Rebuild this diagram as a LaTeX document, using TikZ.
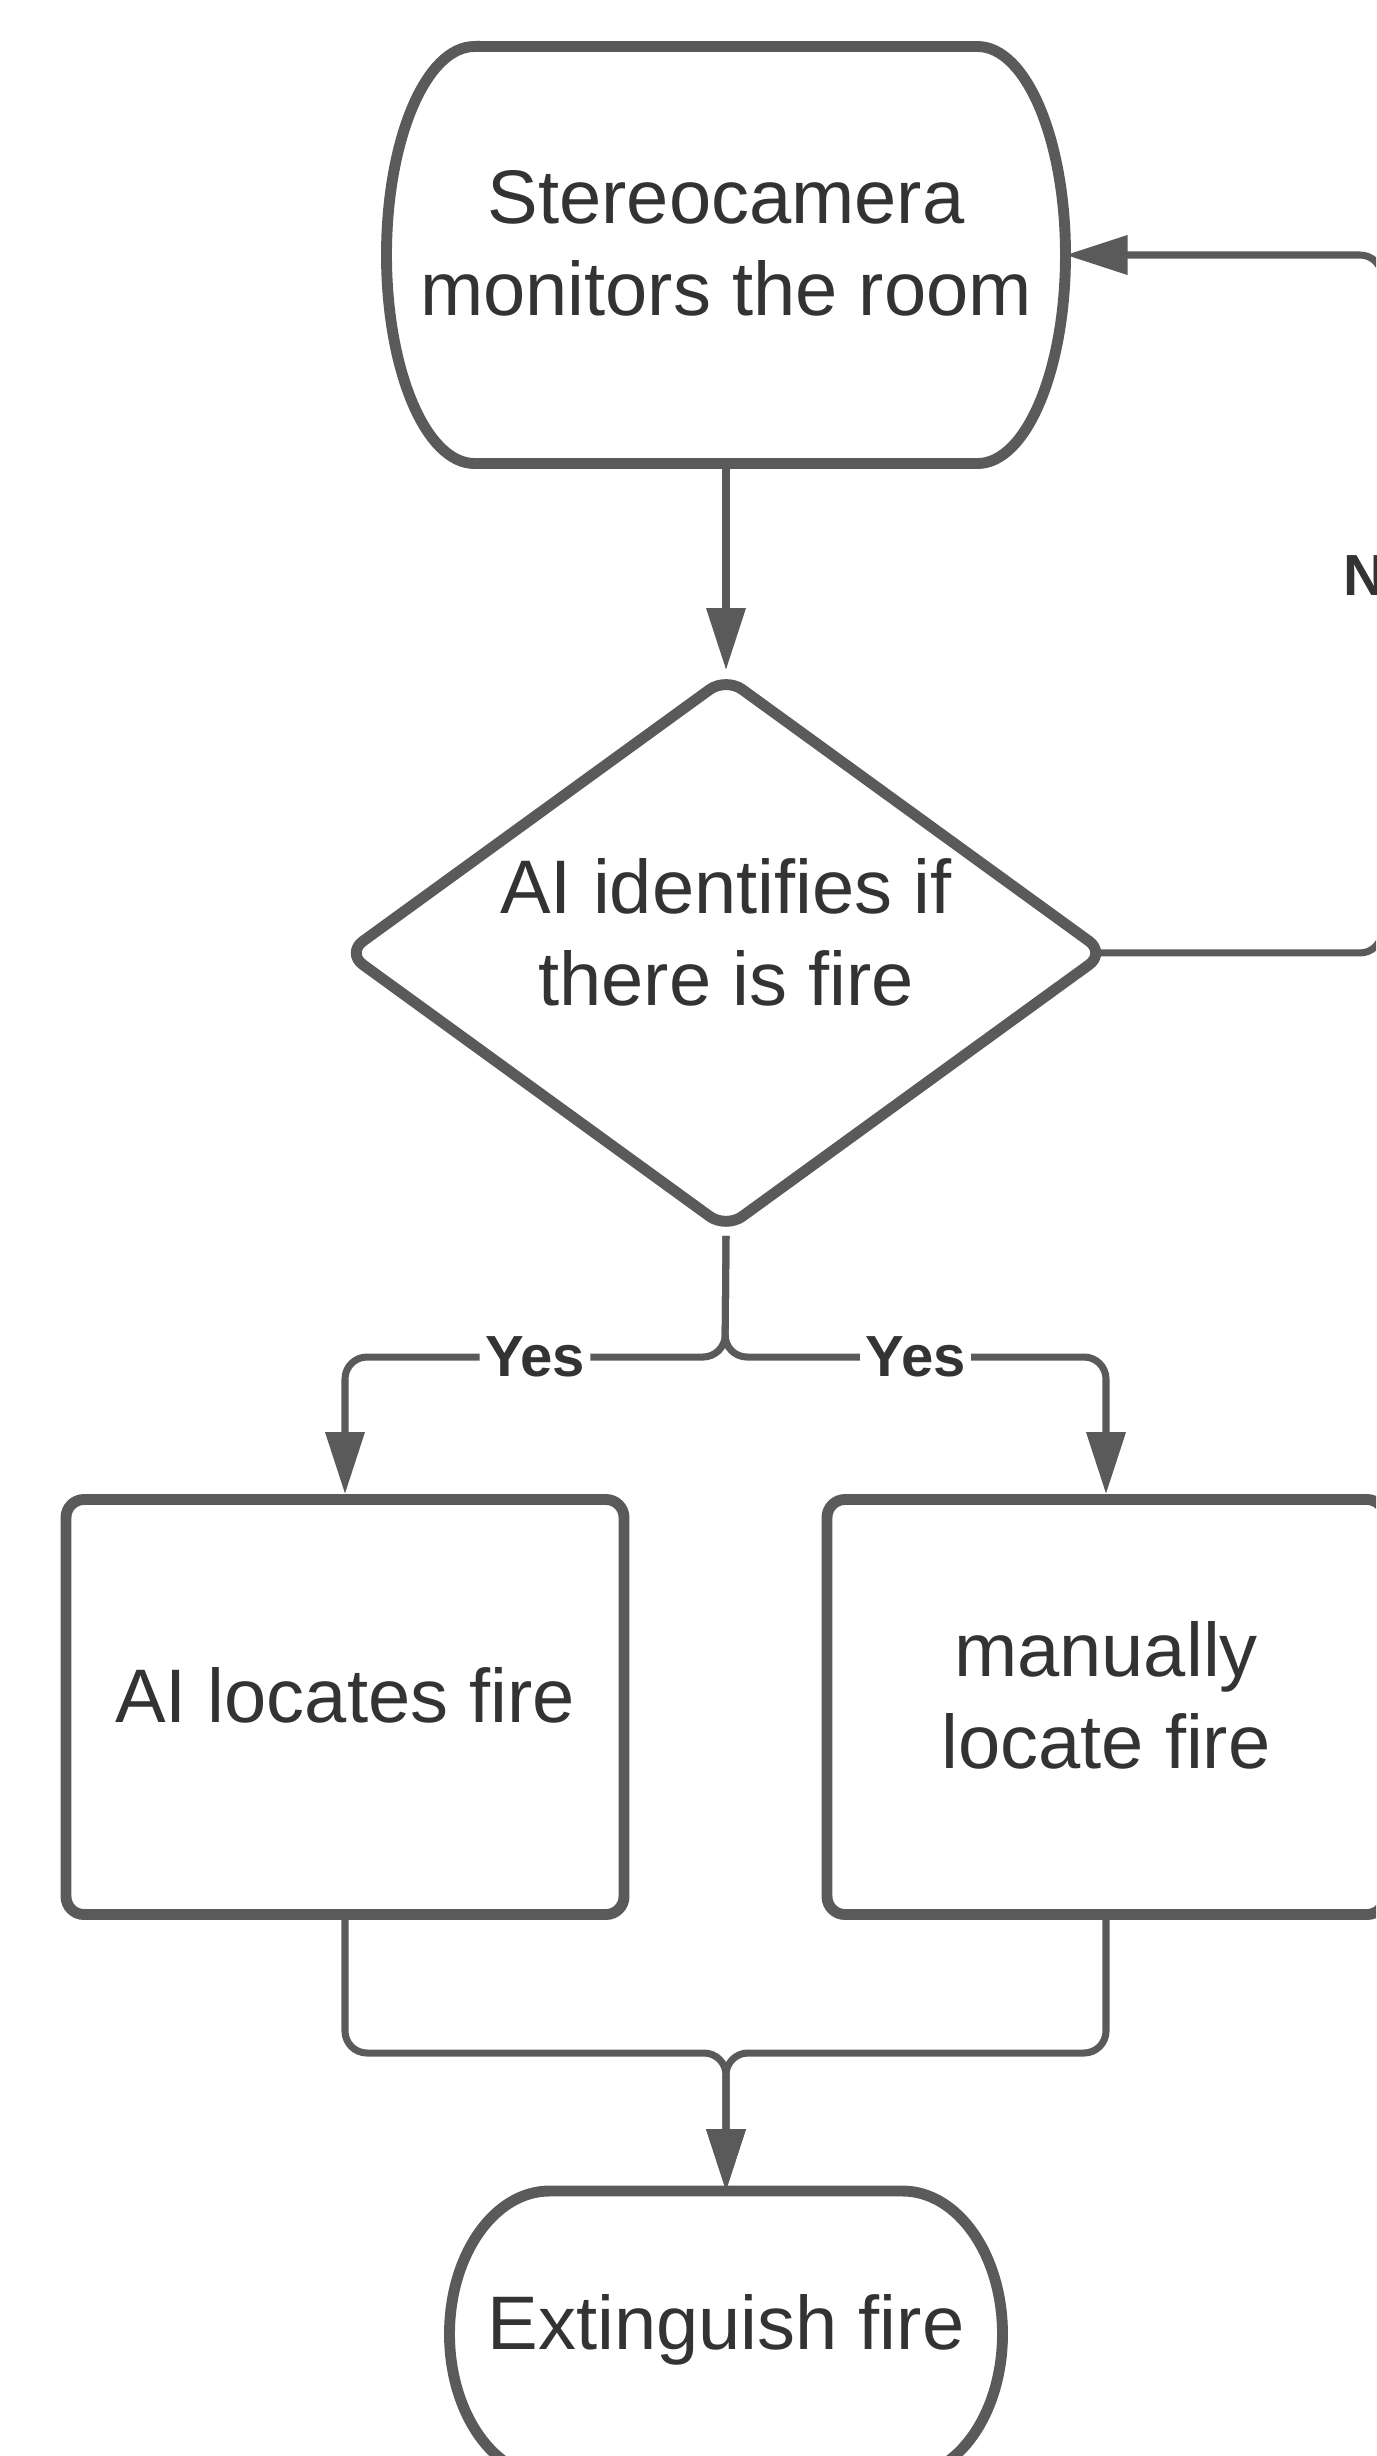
\documentclass[tikz,border=0pt]{standalone}
\usepackage{fontspec}
\setmainfont{Liberation Sans}
\usetikzlibrary{arrows.meta, positioning, shapes.geometric, calc}
\definecolor{flowgray}{HTML}{5A5A5A}
\definecolor{flowtext}{HTML}{333333}

% outline of a terminal node: node name, x radius, y radius
\newcommand{\termoutline}[3]{%
  \draw[shapeline] ([xshift=#2]#1.north west) -- ([xshift=-#2]#1.north east)
    arc[start angle=90, end angle=-90, x radius=#2, y radius=#3]
    -- ([xshift=#2]#1.south west)
    arc[start angle=270, end angle=90, x radius=#2, y radius=#3] -- cycle;}

\tikzset{
  shapeline/.style={draw=flowgray, line width=3.1pt},
  bodytext/.style={text=flowtext, align=center, text depth=0.24cm,
                   font=\fontsize{21.6}{26}\selectfont},
  terminal/.style={bodytext, inner sep=0pt, outer sep=0pt},
  process/.style={shapeline, bodytext, rounded corners=0.18cm,
                  minimum width=5.58cm, minimum height=4.15cm},
  decision/.style={diamond, shapeline, bodytext, text depth=0.42cm, aspect=1.37,
                   inner sep=0pt, minimum width=7.63cm, minimum height=5.55cm,
                   rounded corners=0.2cm},
  conn/.style={draw=flowgray, line width=2pt, rounded corners=0.22cm},
  arrow/.style={conn, -{Triangle[length=6.2mm, width=3.8mm]}},
  choice/.style={fill=white, inner sep=1.5pt, text=flowtext,
                 font=\fontsize{16.5}{20}\selectfont\bfseries}
}

\begin{document}
\begin{tikzpicture}
  \useasboundingbox (0,0) rectangle (13.76,-24.56);
  \clip (0,0) rectangle (13.76,-24.56);

  % nodes
  \node[terminal, minimum width=6.79cm, minimum height=4.17cm] (monitor) at (7.26,-2.55)
    {Stereocamera\\monitors the room};
  \termoutline{monitor}{0.88cm}{2.085cm}
  \node[decision, below=2.065cm of monitor] (detect) {AI identifies if\\there is fire};
  \node[process] (ailocate) at (3.45,-17.07) {AI locates fire};
  \node[process] (manual) at (11.06,-17.07) {manually\\locate fire};
  \node[terminal, minimum width=5.53cm, minimum height=2.86cm] (extinguish) at (7.26,-23.34)
    {Extinguish fire};
  \termoutline{extinguish}{1.0cm}{1.43cm}

  \coordinate (split) at (7.25,-13.57);
  \coordinate (merge) at (7.26,-20.53);

  % connectors
  \draw[arrow] (monitor.south) -- (detect.north);
  \draw[arrow] ([xshift=-0.15cm]detect.east) -- ++(2.84,0) |- node[choice, pos=0.27] {No} (monitor.east);
  \draw[arrow] (detect.south) -- (split) -| node[choice, pos=0.25] {Yes} (ailocate.north);
  \draw[arrow] (detect.south) -- (split) -| node[choice, pos=0.25] {Yes} (manual.north);
  \draw[arrow] (ailocate.south) |- (merge) -- (extinguish.north);
  \draw[arrow] (manual.south) |- (merge) -- (extinguish.north);
\end{tikzpicture}
\end{document}
